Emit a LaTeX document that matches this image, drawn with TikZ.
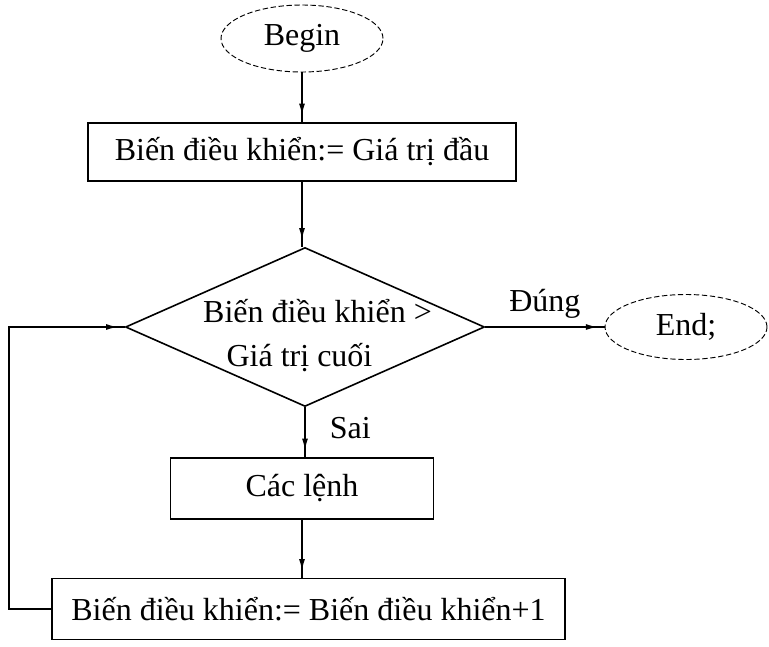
\documentclass[tikz,border=0pt]{standalone}
\usepackage{fontspec}
\setmainfont{Liberation Serif}
\usetikzlibrary{shapes.geometric,arrows.meta,decorations.markings}
\begin{document}
\begin{tikzpicture}[x=0.75pt,y=-0.75pt,
  font=\fontsize{24pt}{33pt}\selectfont,
  terminal/.style={ellipse, draw, line width=0.7pt, dash pattern=on 4pt off 2pt, inner sep=0pt},
  process/.style={rectangle, draw, line width=1.2pt, inner sep=0pt},
  decision/.style={diamond, draw, line width=1.2pt, inner sep=0pt},
  flow/.style={line width=1.2pt, postaction={decorate},
    decoration={markings, mark=at position -5pt with {\arrow{Latex[length=9pt,width=4.5pt]}}}},
  lbl/.style={inner sep=0pt}]
\fill[white] (0,0) rectangle (769,647);
\useasboundingbox (0,0) rectangle (769,647);

% nodes of the loop
\node[terminal, minimum width=121.5pt, minimum height=50.25pt] (begin) at (302,38.5) {Begin};
\node[process, minimum width=321pt, minimum height=43.5pt] (init) at (302,152) {Biến điều khiển:= Giá trị đầu};
\node[decision, minimum width=269.25pt, minimum height=119.25pt] (dec) at (305,327) {};
\node[lbl, anchor=base] (cond1) at (317.5,322) {Biến điều khiển >};
\node[lbl, anchor=base] (cond2) at (299.5,366) {Giá trị cuối};
\node[terminal, minimum width=121.5pt, minimum height=48.75pt] (end) at (686,327) {End;};
\node[process, minimum width=197.25pt, minimum height=45.75pt] (cmds) at (302,488.5) {Các lệnh};
\node[process, minimum width=384.75pt, minimum height=45.75pt] (upd) at (308.5,609) {Biến điều khiển:= Biến điều khiển+1};
\coordinate (corner) at (9,609);

% connectors
\draw[flow] (begin.south) -- (begin.south |- init.north);
\draw[flow] (init.south) -- (init.south |- dec.north);
\draw[flow] (dec.east) -- node[midway, above, inner sep=6pt] (yes) {Đúng} (end.west);
\draw[flow] (dec.south) -- node[pos=0.62, anchor=base west, xshift=18pt, inner sep=0pt] (no) {Sai} (dec.south |- cmds.north);
\draw[flow] (cmds.south |- cmds.south) -- (cmds.south |- upd.north);
\draw[flow] (upd.west) -- (corner) |- (dec.west);
\end{tikzpicture}
\end{document}
